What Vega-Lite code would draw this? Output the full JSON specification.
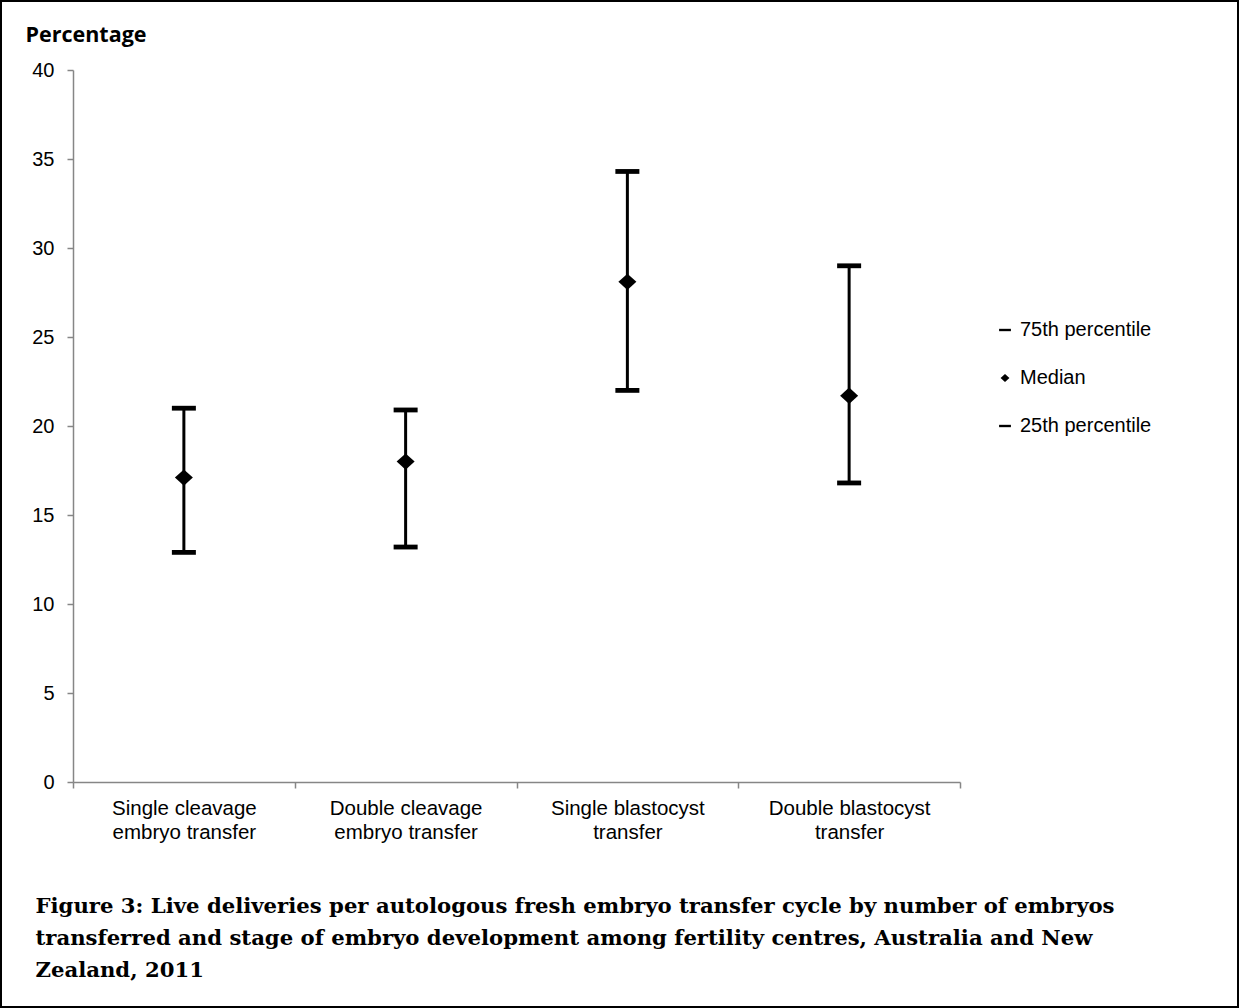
{
  "$schema": "https://vega.github.io/schema/vega-lite/v6.json",
  "width": 1239,
  "height": 1008,
  "autosize": {"type": "none"},
  "padding": 0,
  "background": "white",
  "config": {
    "view": {"stroke": "black", "strokeWidth": 4, "fill": "white"},
    "font": "Liberation Sans"
  },
  "data": {
    "values": [
      {"cat": "Single cleavage embryo transfer", "25th percentile": 12.9, "Median": 17.1, "75th percentile": 21.0},
      {"cat": "Double cleavage embryo transfer", "25th percentile": 13.2, "Median": 18.0, "75th percentile": 20.9},
      {"cat": "Single blastocyst transfer", "25th percentile": 22.0, "Median": 28.1, "75th percentile": 34.3},
      {"cat": "Double blastocyst transfer", "25th percentile": 16.8, "Median": 21.7, "75th percentile": 29.0}
    ]
  },
  "encoding": {
    "x": {
      "field": "cat",
      "type": "nominal",
      "sort": null,
      "scale": {"range": [73, 960], "paddingInner": 0, "paddingOuter": 0},
      "axis": {
        "offset": -226,
        "domainColor": "#868686",
        "domainWidth": 1.5,
        "tickColor": "#868686",
        "tickWidth": 1.5,
        "tickSize": 6,
        "tickBand": "extent",
        "labelAngle": 0,
        "labelFont": "Liberation Sans",
        "labelFontSize": 20.5,
        "labelColor": "black",
        "labelLineHeight": 24,
        "labelPadding": 10,
        "labelExpr": "indexof(datum.label, ' transfer') < 0 ? '' : indexof(datum.label, ' embryo') > 0 ? [slice(datum.label, 0, indexof(datum.label, ' embryo')), 'embryo transfer'] : [slice(datum.label, 0, indexof(datum.label, ' transfer')), 'transfer']",
        "title": ["Figure 3: Live deliveries per autologous fresh embryo transfer cycle by number of embryos", "transferred and stage of embryo development among fertility centres, Australia and New", "Zealand, 2011"],
        "titleFont": "DejaVu Serif",
        "titleFontWeight": "bold",
        "titleFontSize": 21.2,
        "titleColor": "black",
        "titleLineHeight": 32,
        "titleX": 35,
        "titleY": 130,
        "titleAlign": "left",
        "titleBaseline": "alphabetic",
        "titleAngle": 0
      }
    }
  },
  "layer": [
    {
      "mark": {"type": "rule", "color": "black", "strokeWidth": 3},
      "encoding": {
        "y": {
          "field": "25th percentile",
          "type": "quantitative",
          "scale": {"domain": [0, 40], "range": [782, 70], "nice": false, "zero": true},
          "axis": {
            "offset": -73,
            "values": [0, 5, 10, 15, 20, 25, 30, 35, 40],
            "grid": false,
            "domainColor": "#868686",
            "domainWidth": 1.5,
            "tickColor": "#868686",
            "tickWidth": 1.5,
            "tickSize": 6,
            "labelFont": "Liberation Sans",
            "labelFontSize": 20,
            "labelColor": "black",
            "labelPadding": 13,
            "title": "Percentage",
            "titleFont": "Open Sans",
            "titleFontWeight": "bold",
            "titleFontSize": 21.5,
            "titleColor": "black",
            "titleAngle": 0,
            "titleX": -48,
            "titleY": 41,
            "titleAlign": "left",
            "titleBaseline": "alphabetic"
          }
        },
        "y2": {"field": "75th percentile"}
      }
    },
    {
      "transform": [
        {"fold": ["75th percentile", "Median", "25th percentile"], "as": ["series", "value"]}
      ],
      "mark": {"type": "point", "filled": true, "opacity": 1, "color": "black", "strokeWidth": 0, "size": 576},
      "encoding": {
        "y": {"field": "value", "type": "quantitative"},
        "shape": {
          "field": "series",
          "type": "nominal",
          "scale": {
            "domain": ["75th percentile", "Median", "25th percentile"],
            "range": ["M-1,-0.2H1V0.2H-1Z", "M0,-0.68L0.75,0L0,0.68L-0.75,0Z", "M-1,-0.2H1V0.2H-1Z"]
          },
          "legend": {
            "orient": "none",
            "legendX": 995,
            "legendY": 320,
            "title": null,
            "labelFont": "Liberation Sans",
            "labelFontSize": 20,
            "labelColor": "black",
            "labelOffset": 5,
            "symbolSize": 140,
            "symbolFillColor": "black",
            "symbolStrokeColor": "black",
            "symbolStrokeWidth": 0,
            "rowPadding": 28
          }
        }
      }
    }
  ]
}
